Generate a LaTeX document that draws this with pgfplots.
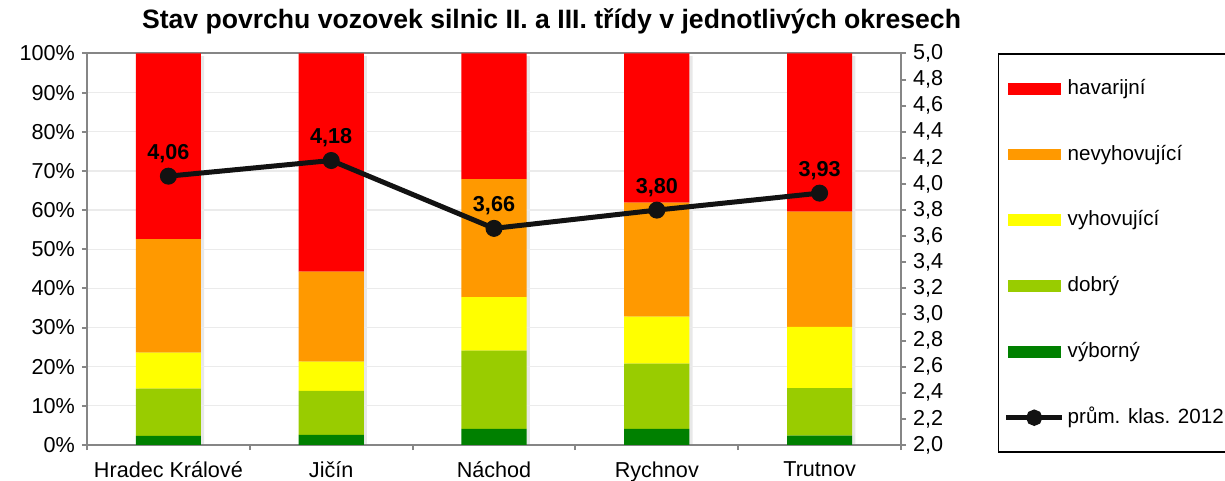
\documentclass[border=0pt]{standalone}
\usepackage{pgfplots}
\pgfplotsset{compat=1.18}
\usepackage{fontspec}
\setmainfont{Liberation Sans}
\definecolor{cRed}{HTML}{FF0000}
\definecolor{cOrange}{HTML}{FF9900}
\definecolor{cYellow}{HTML}{FFFF00}
\definecolor{cLGreen}{HTML}{99CC00}
\definecolor{cDGreen}{HTML}{008000}
\definecolor{cAxis}{HTML}{868686}
\definecolor{cGrid}{HTML}{EBEBEB}
\newcommand{\fsz}{\fontsize{10.8}{13}\selectfont}
\begin{document}
\begin{tikzpicture}
\useasboundingbox (0,0) rectangle (612.5pt,240.5pt);
\pgfplotsset{
 base/.style={scale only axis, width=407pt, height=195.75pt, at={(43.5pt,18pt)}, anchor=south west,
   xmin=-0.5, xmax=4.5, /pgf/number format/assume math mode=true,
   tick label style={font=\fsz}, tick align=outside, major tick length=2.5pt, minor tick length=2.5pt,
   axis line style={cAxis, line width=1pt}, tick style={cAxis, line width=1pt}}
}
% shadow of bars
\begin{axis}[base, hide axis, ymin=0, ymax=100, ybar, bar width=0.4, bar shift=1.6pt]
\addplot[fill=black!9, draw=none] coordinates {(0,99.3)(1,99.3)(2,99.3)(3,99.3)(4,99.3)};
\end{axis}
% stacked bars, left axis
\begin{axis}[base, ymin=0, ymax=100, ybar stacked, bar width=0.4,
  ytick={0,10,...,100}, yticklabel={\pgfmathprintnumber{\tick}\%},
  xtick={0,1,2,3,4}, xticklabels={Hradec Králové,Jičín,Náchod,Rychnov,Trutnov},
  xticklabel style={yshift=-2.5pt},
  minor xtick={-0.5,0.5,1.5,2.5,3.5,4.5},
  major x tick style={draw=none},
  xtick pos=bottom, ytick pos=left,
  ymajorgrids, grid style={cGrid, line width=0.6pt}]
\addplot[fill=cDGreen, draw=none] coordinates {(0,2.3)(1,2.6)(2,4.1)(3,4.1)(4,2.4)};
\addplot[fill=cLGreen, draw=none] coordinates {(0,12.1)(1,11.2)(2,20.0)(3,16.7)(4,12.1)};
\addplot[fill=cYellow, draw=none] coordinates {(0,9.2)(1,7.5)(2,13.7)(3,12.0)(4,15.7)};
\addplot[fill=cOrange, draw=none] coordinates {(0,29.0)(1,23.0)(2,30.1)(3,29.1)(4,29.4)};
\addplot[fill=cRed, draw=none] coordinates {(0,47.4)(1,55.7)(2,32.1)(3,38.1)(4,40.4)};
\end{axis}
% line, right axis
\begin{axis}[base, ymin=2, ymax=5, hide x axis, axis y line*=right,
  ytick={2,2.2,2.4,2.6,2.8,3,3.2,3.4,3.6,3.8,4,4.2,4.4,4.6,4.8,5},
  yticklabel style={/pgf/number format/.cd, use comma, fixed, fixed zerofill, precision=1},
  legend cell align=left,
  legend style={at={(1.1192,1.0)}, anchor=north west, draw=black, line width=0.7pt,
    font=\fontsize{10.3}{13}\selectfont,
    inner xsep=2.5pt, inner ysep=12pt, row sep=22.4pt, column sep=1.5pt,
    nodes={inner sep=0pt, text height=8pt, text depth=2.5pt}}]
\addlegendimage{legend image code/.code={\fill[cRed] (0pt,-2.6pt) rectangle (26pt,2.6pt);}}
\addlegendentry{havarijní}
\addlegendimage{legend image code/.code={\fill[cOrange] (0pt,-2.6pt) rectangle (26pt,2.6pt);}}
\addlegendentry{nevyhovující}
\addlegendimage{legend image code/.code={\fill[cYellow] (0pt,-2.6pt) rectangle (26pt,2.6pt);}}
\addlegendentry{vyhovující}
\addlegendimage{legend image code/.code={\fill[cLGreen] (0pt,-2.6pt) rectangle (26pt,2.6pt);}}
\addlegendentry{dobrý}
\addlegendimage{legend image code/.code={\fill[cDGreen] (0pt,-2.6pt) rectangle (26pt,2.6pt);}}
\addlegendentry{výborný}
\addplot[black!93, line width=2.5pt, mark=*, mark size=4pt,
  mark options={fill=black!93, line width=0.5pt},
  legend image code/.code={\draw[black!93, line width=2.5pt] (-1pt,0pt) -- (27pt,0pt); \fill[black!93] (13pt,0pt) circle (2.8pt);},
  nodes near coords={\pgfmathprintnumber[fixed, fixed zerofill, precision=2, use comma]{\pgfplotspointmeta}},
  every node near coord/.append style={font=\bfseries\fontsize{10.8}{13}\selectfont, black, anchor=south, yshift=3pt}]
  coordinates {(0,4.06)(1,4.18)(2,3.66)(3,3.80)(4,3.93)};
\addlegendentry{prům. klas. 2012}
\end{axis}
\node[font=\bfseries\fontsize{13.3}{16}\selectfont] at (275.75pt,230pt) {Stav povrchu vozovek silnic II. a III. třídy v jednotlivých okresech};
\end{tikzpicture}
\end{document}
